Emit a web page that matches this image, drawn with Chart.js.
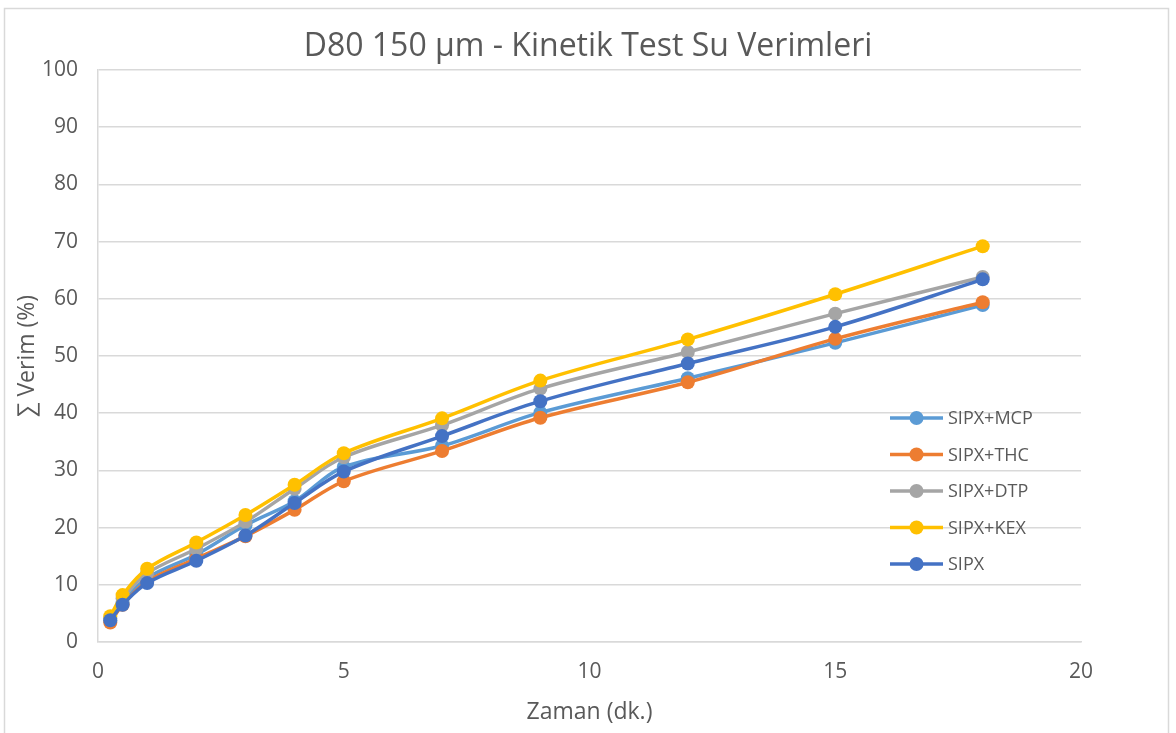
<!DOCTYPE html>
<html>
<head>
<meta charset="utf-8">
<title>D80 150 µm - Kinetik Test Su Verimleri</title>
<script src="https://cdn.jsdelivr.net/npm/chart.js@4/dist/chart.umd.min.js"></script>
<style>
  html, body { margin: 0; padding: 0; background: #ffffff; }
  #kutu { position: relative; width: 1176px; height: 733px; }
</style>
</head>
<body>
<div id="kutu"><canvas id="grafik" width="1176" height="733"></canvas></div>
<script>
// =======================
// Veriler
// =======================
const zaman = [0.25, 0.5, 1, 2, 3, 4, 5, 7, 9, 12, 15, 18];

const sipxMcp = [3.7, 6.8, 11.2, 15.3, 20.4, 24.6, 30.6, 34.3, 40.1, 46.1, 52.3, 58.9];
const sipxThc = [3.4, 6.5, 10.6, 14.6, 18.5, 23.1, 28.1, 33.4, 39.2, 45.4, 53.0, 59.4];
const sipxDtp = [4.2, 7.6, 12.0, 16.3, 21.0, 26.8, 32.3, 37.9, 44.3, 50.7, 57.4, 63.8];
const sipxKex = [4.5, 8.2, 12.8, 17.4, 22.2, 27.5, 33.0, 39.1, 45.7, 52.9, 60.8, 69.2];
const sipx    = [3.8, 6.5, 10.3, 14.2, 18.6, 24.3, 29.8, 36.0, 42.1, 48.7, 55.1, 63.4];

const seriAdlari = ["SIPX+MCP", "SIPX+THC", "SIPX+DTP", "SIPX+KEX", "SIPX"];
const seriRenkleri = ["#5B9BD5", "#ED7D31", "#A5A5A5", "#FFC000", "#4472C4"];
const seriDegerleri = [sipxMcp, sipxThc, sipxDtp, sipxKex, sipx];

const xTikler = [0, 5, 10, 15, 20];
const yTikler = [0, 10, 20, 30, 40, 50, 60, 70, 80, 90, 100];

const YAZI = "'Open Sans', 'Liberation Sans', sans-serif";
const GRI_YAZI = "#595959";
const IZGARA = "#d9d9d9";

// =======================
// Veri setleri
// =======================
const veriSetleri = seriAdlari.map((ad, i) => ({
  label: ad,
  data: zaman.map((t, k) => ({ x: t, y: seriDegerleri[i][k] })),
  borderColor: seriRenkleri[i],
  backgroundColor: seriRenkleri[i],
  pointBackgroundColor: seriRenkleri[i],
  pointBorderColor: seriRenkleri[i],
  borderWidth: 3.5,
  pointRadius: 7,
  pointBorderWidth: 0,
  tension: 0.35,
  fill: false,
  yAxisID: "y",
  // sonraki seri ustte cizilsin (Excel gibi)
  order: seriAdlari.length - i
}));

// =======================
// Eklentiler
// =======================
const cerceve = {
  id: "cerceve",
  beforeDraw(chart) {
    const c = chart.ctx;
    c.save();
    c.fillStyle = "#ffffff";
    c.fillRect(0, 0, chart.width, chart.height);
    c.strokeStyle = IZGARA;
    c.lineWidth = 1.5;
    c.strokeRect(4.5, 8.5, 1164, 740);
    c.restore();
  }
};

// grafik alaninin icinde duran dikey lejant
const icLejant = {
  id: "icLejant",
  afterDraw(chart) {
    const c = chart.ctx;
    const x0 = 890, y0 = 418, adim = 36.5;
    c.save();
    c.font = "18px " + YAZI;
    c.textBaseline = "middle";
    c.textAlign = "left";
    chart.data.datasets.forEach((ds, i) => {
      const y = y0 + i * adim;
      c.strokeStyle = ds.borderColor;
      c.lineWidth = 3.5;
      c.beginPath();
      c.moveTo(x0, y);
      c.lineTo(x0 + 53, y);
      c.stroke();
      c.fillStyle = ds.borderColor;
      c.beginPath();
      c.arc(x0 + 26.5, y, 7, 0, Math.PI * 2);
      c.fill();
      c.fillStyle = GRI_YAZI;
      c.fillText(ds.label, x0 + 58, y + 1);
    });
    c.restore();
  }
};

// =======================
// Grafik
// =======================
const ctx = document.getElementById("grafik").getContext("2d");
const grafik = new Chart(ctx, {
  type: "line",
  data: { datasets: veriSetleri },
  options: {
    responsive: false,
    animation: false,
    events: [],
    layout: { padding: 0 },
    plugins: {
      legend: { display: false },
      tooltip: { enabled: false },
      title: {
        display: true,
        text: "D80 150 µm - Kinetik Test Su Verimleri",
        color: GRI_YAZI,
        font: { family: YAZI, size: 32, weight: "normal", lineHeight: 1.2 },
        padding: { top: 28, bottom: 3.6 }
      }
    },
    scales: {
      x: {
        type: "linear",
        min: 0,
        max: 20,
        afterBuildTicks: (s) => { s.ticks = xTikler.map(v => ({ value: v })); },
        afterFit: (s) => { s.height = 91; },
        grid: { display: false, drawTicks: false },
        border: { display: true, color: IZGARA, width: 1.5 },
        ticks: {
          color: GRI_YAZI,
          padding: 17,
          font: { family: YAZI, size: 21 }
        },
        title: {
          display: true,
          text: "Zaman (dk.)",
          color: GRI_YAZI,
          font: { family: YAZI, size: 23, lineHeight: 1.2 },
          padding: { top: 0, bottom: 7 }
        }
      },
      y: {
        min: 0,
        max: 100,
        afterBuildTicks: (s) => { s.ticks = yTikler.map(v => ({ value: v })); },
        afterFit: (s) => { s.width = 98; },
        grid: { color: IZGARA, lineWidth: 1.5, drawTicks: false },
        border: { display: true, color: IZGARA, width: 1.5 },
        ticks: {
          color: GRI_YAZI,
          padding: 20,
          font: { family: YAZI, size: 21 }
        },
        title: {
          display: true,
          text: "∑ Verim (%)",
          color: GRI_YAZI,
          font: { family: YAZI, size: 23, lineHeight: 1.2 },
          padding: { top: 14, bottom: 0 }
        }
      },
      // sag taraftaki bos bosluk (baslik tum genislige ortalansin diye)
      sag: {
        type: "linear",
        position: "right",
        display: true,
        afterFit: (s) => { s.width = 95; },
        grid: { display: false, drawTicks: false },
        border: { display: false },
        ticks: { display: false }
      }
    }
  },
  plugins: [cerceve, icLejant]
});
</script>
</body>
</html>
